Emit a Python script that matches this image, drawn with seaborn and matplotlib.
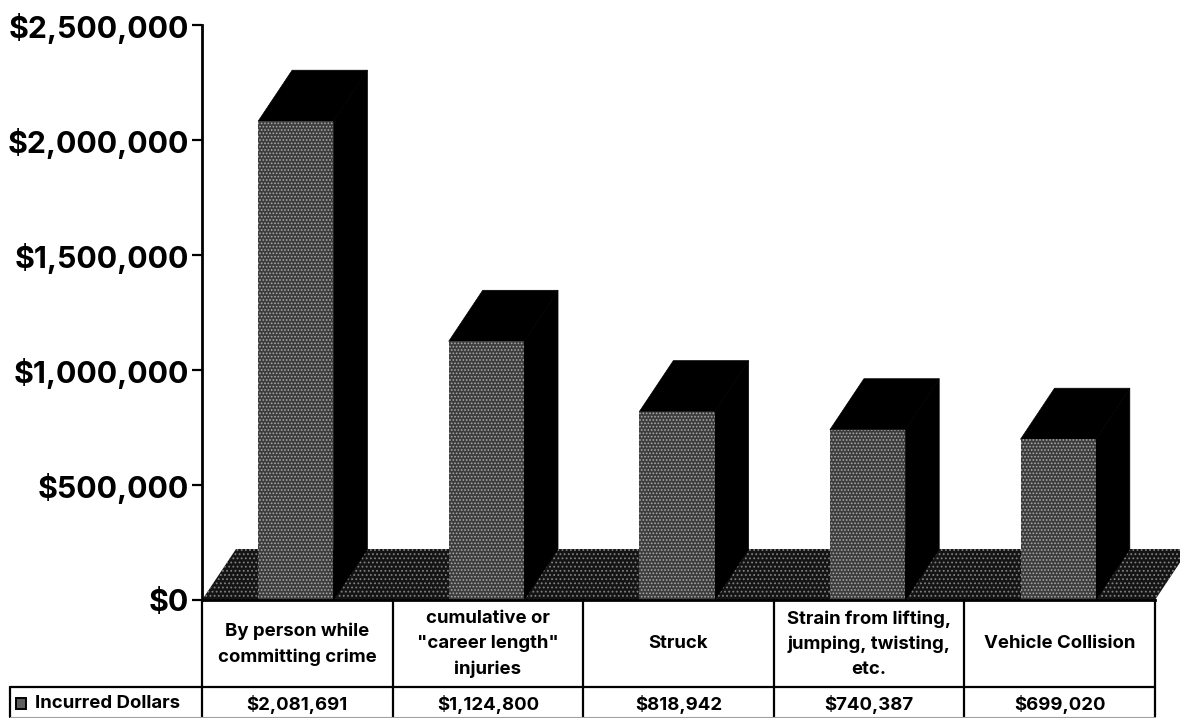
import matplotlib
matplotlib.use("Agg")
import matplotlib.pyplot as plt
import pandas as pd
import seaborn as sns
from matplotlib.patches import Polygon, Rectangle
from matplotlib.ticker import FuncFormatter

categories = [
    "By person while\ncommitting crime",
    "cumulative or\n\"career length\"\ninjuries",
    "Struck",
    "Strain from lifting,\njumping, twisting,\netc.",
    "Vehicle Collision",
]
incurred_dollars = [2081691, 1124800, 818942, 740387, 699020]
series_name = "Incurred Dollars"
y_ticks = [0, 500000, 1000000, 1500000, 2000000, 2500000]

W, H = 1180, 718
LEFT, RIGHT, TOP, BOTTOM = 202, 1155, 25, 600
DEPTH_X, DEPTH_Y = 34, 51
TABLE_MID, TABLE_END = 687, 717

sns.set_style("white")
plt.rcParams["font.family"] = ["Inter", "Liberation Sans", "DejaVu Sans"]
plt.rcParams["hatch.linewidth"] = 0.8

fig = plt.figure(figsize=(W / 100, H / 100), dpi=100, facecolor="white")
ax = fig.add_axes([LEFT / W, 1 - BOTTOM / H, (RIGHT - LEFT) / W, (BOTTOM - TOP) / H])

df = pd.DataFrame({"category": categories, "dollars": incurred_dollars})
sns.barplot(data=df, x="category", y="dollars", width=0.395, color="#5e5e5e",
            saturation=1, ax=ax, zorder=3)
ax.set_xlim(-0.492, 4.508)
ax.set_ylim(0, 2500000)
ax.set_xlabel("")
ax.set_ylabel("")

dx = DEPTH_X * 5 / (RIGHT - LEFT)
dy = DEPTH_Y * 2500000 / (BOTTOM - TOP)

# Receding floor of the pseudo-3D plot
floor = Polygon([(-0.492, 0), (4.508, 0), (4.508 + dx, dy), (-0.492 + dx, dy)],
                closed=True, facecolor="#141414", edgecolor="#808080", hatch="....",
                linewidth=0, zorder=1, clip_on=False)
ax.add_patch(floor)

# Extruded top and side of every bar, with a stippled front
for bar in list(ax.patches):
    if bar is floor:
        continue
    x0, w, h = bar.get_x(), bar.get_width(), bar.get_height()
    ax.add_patch(Polygon([(x0, h), (x0 + w, h), (x0 + w + dx, h + dy), (x0 + dx, h + dy)],
                         closed=True, facecolor="black", edgecolor="black",
                         linewidth=0.5, zorder=2, clip_on=False))
    ax.add_patch(Polygon([(x0 + w, 0), (x0 + w + dx, dy), (x0 + w + dx, h + dy), (x0 + w, h)],
                         closed=True, facecolor="black", edgecolor="black",
                         linewidth=0.5, zorder=2, clip_on=False))
    bar.set_facecolor("#3c3c3c")
    bar.set_edgecolor("#a8a8a8")
    bar.set_hatch(".....")
    bar.set_linewidth(0)

ax.set_yticks(y_ticks)
ax.yaxis.set_major_formatter(FuncFormatter(lambda v, _: f"${v:,.0f}"))
ax.tick_params(axis="y", left=True, length=7.5, width=1.6, color="black", pad=2,
               labelsize=21.8, labelcolor="black")
for label in ax.get_yticklabels():
    label.set_fontweight("bold")
ax.set_xticks([])
for name, spine in ax.spines.items():
    spine.set_visible(name in ("left", "bottom"))
    spine.set_color("black")
    spine.set_linewidth(2)
    spine.set_zorder(5)


def fx(px):
    return px / W


def fy(py):
    return 1 - py / H


def rule(x0, y0, x1, y1, width=1.6, color="black"):
    fig.add_artist(plt.Line2D([fx(x0), fx(x1)], [fy(y0), fy(y1)], color=color,
                              linewidth=width, transform=fig.transFigure))


# Data table under the plot
n = len(categories)
col_edges = [LEFT + i * (RIGHT - LEFT) / n for i in range(n + 1)]
for edge in col_edges:
    rule(edge, BOTTOM, edge, TABLE_END)
rule(10, TABLE_MID, RIGHT, TABLE_MID)
rule(10, TABLE_MID, 10, TABLE_END)
rule(10, TABLE_END, RIGHT, TABLE_END, width=0.8, color="#a0a0a0")

text_style = dict(ha="center", va="center", fontsize=13.4, fontweight="bold",
                  color="black", transform=fig.transFigure)
for i, (name, value) in enumerate(zip(categories, incurred_dollars)):
    cx = (col_edges[i] + col_edges[i + 1]) / 2
    fig.text(fx(cx), fy(644), name, linespacing=1.6, **text_style)
    fig.text(fx(cx), fy(705), f"${value:,.0f}", **text_style)

fig.text(fx(35), fy(704), series_name, ha="left", va="center", fontsize=13.4,
         fontweight="bold", color="black")
fig.add_artist(Rectangle((fx(16), fy(709)), 10 / W, 11 / H, transform=fig.transFigure,
                         facecolor="#5e5e5e", edgecolor="black", linewidth=1.4))

fig.savefig("out.png", dpi=100, facecolor="white")
